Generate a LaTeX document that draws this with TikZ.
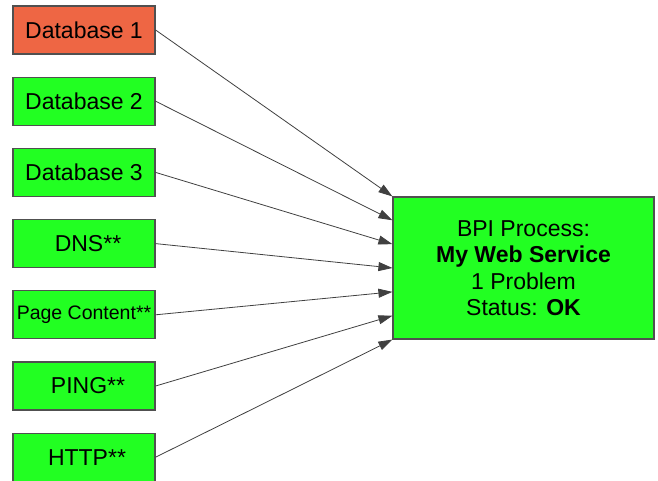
\documentclass[tikz,border=0pt]{standalone}
\usepackage{fontspec}
\setmainfont{Liberation Sans}
\usepackage{xcolor}
\usetikzlibrary{positioning, arrows.meta, calc}

\definecolor{okgreen}{HTML}{22FF22}
\definecolor{badred}{HTML}{EE6644}
\definecolor{edgegray}{HTML}{505050}

\tikzset{
    checkbox/.style={draw=edgegray, line width=1.2pt, fill=okgreen, minimum width=142pt, minimum height=48pt, inner sep=0pt, font=\fontsize{23}{27}\selectfont},
    downbox/.style={checkbox, fill=badred},
    feed/.style={draw=edgegray!80!black, line width=0.8pt, -{Triangle[length=14pt, width=9pt]}}
}

\begin{document}
\begin{tikzpicture}[x=1pt, y=-1pt, node distance=22pt]
    \useasboundingbox (0,0) rectangle (658,480);

    \node[downbox] (db1) at (84,30) {Database 1};
    \node[checkbox, below=of db1] (db2) {Database 2};
    \node[checkbox, below=of db2] (db3) {Database 3};
    \node[checkbox, below=of db3] (dns) {\hspace{8pt}DNS**};
    \node[checkbox, below=of dns, font=\fontsize{19.5}{22}\selectfont] (page) {Page Content**};
    \node[checkbox, below=of page] (ping) {\hspace{8pt}PING**};
    \node[checkbox, below=of ping] (http) {\hspace{6pt}HTTP**};

    \node[checkbox, minimum width=261pt, minimum height=142pt, align=center, font=\fontsize{23}{26.5}\selectfont] (bpi) at (523.5,268)
        {BPI Process:\\ \textbf{My Web Service}\\ 1 Problem\\ Status: \textbf{OK}};

    % inputs spread over the left side
    \foreach \src [count=\i from 0] in {db1, db2, db3, dns, page, ping, http}
        \draw[feed] (\src.east) -- ($(bpi.north west)!\i/6!(bpi.south west)$);
\end{tikzpicture}
\end{document}
